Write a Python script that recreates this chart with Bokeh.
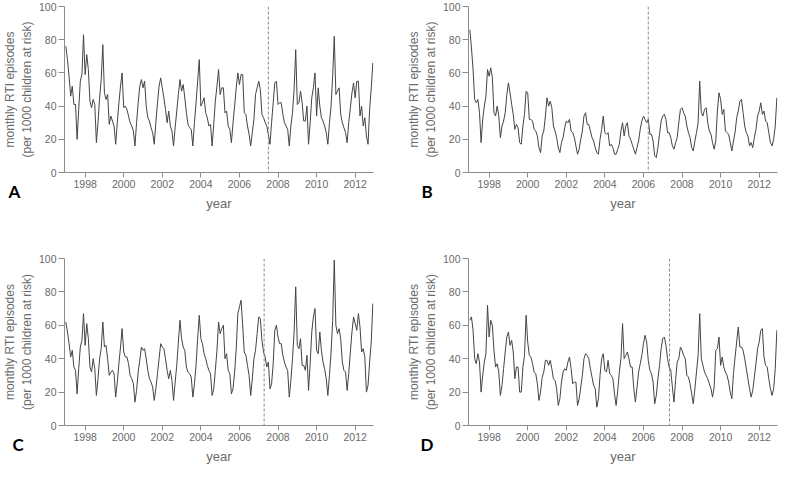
import numpy as np
from bokeh.plotting import figure
from bokeh.models import Range1d, FixedTicker, Span, Title
from bokeh.layouts import column, row
from bokeh.embed import file_html
from bokeh.resources import INLINE

# ---------------- data ----------------
start_year = 1997
n_months = 192                      # Jan 1997 .. Dec 2012
month_pos = start_year + np.arange(n_months) / 12.0

year_ticks = [1998, 2000, 2002, 2004, 2006, 2008, 2010, 2012]
rate_ticks = [0, 20, 40, 60, 80, 100]

rti_a = [
    76, 68, 58, 46, 52, 41, 41, 20, 38, 55, 59, 83,
    59, 71, 62, 43, 39, 44, 41, 18, 30, 45, 56, 77,
    48, 44, 47, 29, 34, 31, 28, 17, 30, 42, 52, 60,
    39, 40, 38, 34, 30, 28, 25, 16, 30, 42, 52, 56,
    51, 55, 40, 33, 31, 27, 24, 17, 30, 42, 52, 57,
    51, 45, 38, 30, 37, 28, 25, 16, 27, 37, 47, 56,
    49, 53, 45, 36, 29, 27, 26, 16, 30, 42, 55, 68,
    40, 42, 45, 36, 33, 28, 29, 16, 29, 43, 52, 62,
    47, 51, 51, 36, 37, 28, 26, 18, 30, 40, 51, 60,
    53, 59, 59, 36, 35, 28, 23, 16, 24, 32, 47, 51,
    55, 50, 35, 33, 30, 28, 23, 17, 30, 42, 54, 55,
    41, 42, 42, 35, 30, 28, 26, 16, 28, 36, 50, 74,
    41, 42, 49, 42, 31, 31, 40, 17, 30, 45, 51, 60,
    34, 51, 40, 33, 31, 28, 24, 17, 30, 40, 58, 82,
    47, 49, 51, 35, 30, 27, 24, 18, 30, 39, 48, 54,
    45, 55, 55, 34, 40, 28, 33, 22, 17, 38, 51, 66,
]

rti_b = [
    86, 75, 62, 44, 42, 44, 36, 18, 32, 40, 46, 62,
    58, 63, 57, 36, 34, 40, 34, 21, 28, 31, 36, 47,
    54, 48, 41, 35, 26, 29, 27, 18, 17, 28, 35, 49,
    48, 32, 32, 31, 26, 25, 22, 15, 12, 22, 25, 34,
    45, 40, 43, 39, 28, 25, 21, 15, 12, 18, 21, 27,
    31, 30, 32, 25, 24, 21, 16, 11, 14, 20, 25, 34,
    36, 29, 29, 25, 21, 19, 15, 12, 11, 20, 26, 34,
    24, 23, 24, 16, 17, 15, 11, 11, 14, 17, 25, 30,
    22, 28, 30, 22, 20, 17, 14, 11, 15, 19, 26, 31,
    34, 32, 30, 32, 23, 23, 19, 10, 9, 15, 23, 31,
    34, 35, 32, 24, 24, 21, 16, 14, 18, 21, 30, 38,
    39, 36, 34, 28, 24, 21, 15, 13, 19, 24, 30, 55,
    36, 34, 38, 39, 30, 25, 23, 18, 14, 19, 37, 48,
    44, 35, 38, 25, 24, 23, 18, 13, 19, 24, 33, 37,
    43, 44, 36, 28, 24, 22, 16, 18, 15, 21, 26, 34,
    37, 42, 35, 37, 31, 30, 24, 18, 16, 20, 28, 45,
]

rti_c = [
    62, 56, 49, 41, 45, 35, 33, 19, 34, 47, 51, 67,
    48, 61, 52, 35, 32, 40, 34, 18, 28, 40, 46, 62,
    47, 48, 40, 30, 32, 33, 31, 17, 26, 37, 47, 58,
    44, 41, 41, 37, 30, 28, 25, 14, 21, 32, 39, 47,
    45, 46, 40, 33, 28, 26, 23, 15, 22, 31, 40, 49,
    47, 46, 40, 33, 28, 33, 27, 15, 26, 36, 50, 63,
    52, 47, 45, 35, 32, 31, 29, 17, 25, 36, 52, 66,
    52, 49, 43, 40, 36, 33, 31, 18, 22, 33, 45, 62,
    55, 58, 60, 40, 43, 33, 31, 19, 22, 32, 46, 67,
    71, 75, 60, 44, 42, 36, 30, 18, 28, 40, 45, 55,
    65, 64, 51, 44, 41, 35, 38, 22, 25, 37, 57, 60,
    53, 49, 49, 42, 38, 35, 33, 17, 27, 40, 56, 83,
    48, 46, 52, 36, 36, 33, 42, 21, 37, 56, 65, 70,
    45, 43, 56, 45, 38, 34, 28, 18, 30, 44, 63, 99,
    60, 55, 58, 52, 38, 33, 32, 21, 31, 44, 56, 65,
    61, 57, 67, 59, 44, 46, 41, 20, 24, 38, 50, 73,
]

rti_d = [
    63, 65, 57, 40, 37, 43, 38, 20, 30, 38, 43, 72,
    53, 63, 60, 45, 35, 37, 32, 18, 24, 34, 44, 53,
    56, 48, 51, 44, 28, 35, 35, 20, 20, 35, 42, 66,
    50, 42, 41, 37, 32, 31, 25, 15, 20, 29, 32, 39,
    39, 36, 39, 34, 28, 27, 22, 12, 16, 26, 32, 34,
    33, 38, 41, 34, 25, 26, 26, 12, 16, 23, 30, 40,
    43, 42, 40, 34, 29, 24, 22, 11, 16, 30, 40, 43,
    33, 32, 39, 31, 30, 28, 19, 12, 21, 32, 40, 61,
    40, 42, 44, 40, 35, 35, 22, 14, 23, 32, 37, 42,
    49, 54, 50, 39, 33, 31, 26, 13, 18, 28, 36, 46,
    52, 53, 48, 40, 35, 33, 23, 14, 27, 38, 40, 47,
    45, 42, 40, 30, 29, 25, 19, 13, 22, 32, 42, 67,
    40, 36, 32, 30, 28, 25, 22, 17, 23, 45, 46, 53,
    36, 41, 35, 32, 30, 26, 20, 16, 31, 41, 50, 59,
    47, 47, 45, 40, 34, 28, 22, 17, 21, 29, 37, 46,
    50, 57, 58, 41, 36, 35, 28, 22, 18, 22, 34, 57,
]

change_a = 2007.5
change_b = 2006.25
change_c = 2007.28
change_d = 2007.35

panel_letters = ["A", "B", "C", "D"]
y_title = "monthly RTI episodes\n(per 1000 children at risk)"
x_title = "year"

# ---------------- styling ----------------
AXIS_COL = "#8c8c8c"
TEXT_COL = "#6a6a6a"
LINE_COL = "#444444"
FONT = "Liberation Sans"
X0, X1 = 1996.93, 2012.95
FW = 315


def panel(vals, change, letter, fh, bl, br, bt, bb, letter_dx, letter_standoff):
    p = figure(width=bl + FW + br, height=bt + fh + bb,
               x_range=Range1d(X0, X1), y_range=Range1d(0, 100),
               output_backend="svg", toolbar_location=None,
               min_border_left=bl, min_border_right=br,
               min_border_top=bt, min_border_bottom=bb)
    p.outline_line_color = None
    p.grid.visible = False
    p.background_fill_color = "white"
    p.border_fill_color = "white"

    p.line(month_pos, vals, line_color=LINE_COL, line_width=1)
    p.add_layout(Span(location=change, dimension="height",
                      line_color="#8a8a8a", line_dash="3 2", line_width=1))

    p.xaxis.ticker = FixedTicker(ticks=year_ticks)
    p.yaxis.ticker = FixedTicker(ticks=rate_ticks)
    for ax in (p.xaxis[0], p.yaxis[0]):
        ax.axis_line_color = AXIS_COL
        ax.major_tick_line_color = AXIS_COL
        ax.minor_tick_line_color = None
        ax.major_tick_in = 0
        ax.major_label_text_color = TEXT_COL
        ax.major_label_text_font = FONT
        ax.major_label_text_font_size = "10.5px"
        ax.major_label_standoff = 2
        ax.axis_label_text_color = TEXT_COL
        ax.axis_label_text_font = FONT
        ax.axis_label_text_font_style = "normal"
    p.xaxis.major_tick_out = 5
    p.yaxis.major_tick_out = 6
    p.yaxis.axis_label = y_title
    p.yaxis.axis_label_text_font_size = "12px"
    p.yaxis.axis_label_standoff = 2

    # panel letter and x title, stacked under the x axis
    p.add_layout(Title(text=letter, align="left", vertical_align="top",
                       offset=letter_dx, standoff=letter_standoff,
                       text_font="Lato", text_font_style="bold",
                       text_font_size="17px", text_color="black"), "below")
    p.add_layout(Title(text=x_title, align="center", vertical_align="top",
                       standoff=4, text_font=FONT, text_font_style="normal",
                       text_font_size="13px", text_color=TEXT_COL), "below")
    return p


pa = panel(rti_a, change_a, panel_letters[0], 166, 58, 31, 6, 80, -56, -20)
pb = panel(rti_b, change_b, panel_letters[1], 166, 58, 2, 6, 80, -47, -20)
pc = panel(rti_c, change_c, panel_letters[2], 167, 58, 31, 6, 45, -52, -20)
pd = panel(rti_d, change_d, panel_letters[3], 167, 58, 2, 6, 45, -48, -20)

layout = column(row(pa, pb), row(pc, pd))

open("out.html", "w").write(file_html(layout, INLINE))
